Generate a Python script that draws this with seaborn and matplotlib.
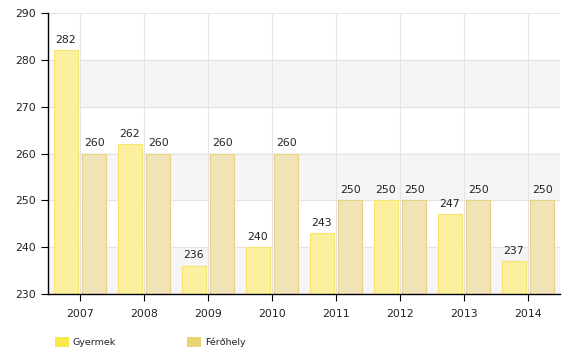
import matplotlib
matplotlib.use("Agg")
import matplotlib.pyplot as plt
import seaborn as sns
import pandas as pd
from matplotlib.patches import Patch

years = ["2007", "2008", "2009", "2010", "2011", "2012", "2013", "2014"]
gyermek = [282, 262, 236, 240, 243, 250, 247, 237]
ferohely = [260, 260, 260, 260, 250, 250, 250, 250]
series = ["Gyermek", "Férőhely"]

df = pd.DataFrame({
    "year": years * 2,
    "value": gyermek + ferohely,
    "series": [series[0]] * len(years) + [series[1]] * len(years),
})

sns.set_theme(style="white")
plt.rcParams['font.family'] = ['DejaVu Sans']

fig = plt.figure(figsize=(5.79, 3.62), dpi=100)
ax = fig.add_axes([48/579, 1 - 294/362, (560-48)/579, (294-13)/362])

face = {"Gyermek": "#faf0a0", "Férőhely": "#f0e4b6"}
edge = {"Gyermek": "#f6e46c", "Férőhely": "#e6d282"}

sns.barplot(data=df, x="year", y="value", hue="series", hue_order=series,
            palette=face, saturation=1, width=0.9, gap=0.17, ax=ax, legend=False,
            bottom=0)

for i, cont in enumerate(ax.containers):
    for p in cont:
        p.set_edgecolor(edge[series[i]])
        p.set_linewidth(0.8)
    ax.bar_label(cont, padding=4, fontsize=7.8, color="#222222")

ax.set_ylim(230, 290)
ax.set_xlim(-0.5, len(years) - 0.5)
ax.set_yticks(range(230, 291, 10))
for lo in (230, 250, 270):
    ax.axhspan(lo, lo + 10, color="#f5f5f5", zorder=0)
ax.grid(True, axis="both", color="#e4e4e4", linewidth=0.8, zorder=0.5)
ax.set_axisbelow(True)
ax.set_xlabel("")
ax.set_ylabel("")
for s in ["top", "right"]:
    ax.spines[s].set_visible(False)
for s in ["left", "bottom"]:
    ax.spines[s].set_color("#000000")
    ax.spines[s].set_linewidth(1.0)
ax.tick_params(axis="both", which="both", length=5, width=0.8, color="#000000",
               labelsize=7.8, labelcolor="#222222", direction="out",
               left=True, bottom=True)
ax.tick_params(axis="x", pad=6)

handles = [Patch(facecolor="#f8e84c", edgecolor="none"),
           Patch(facecolor="#e8d472", edgecolor="none")]
fig.legend(handles, series, loc="center left", bbox_to_anchor=(46/579, 1 - 342/362),
           ncol=2, frameon=False, fontsize=6.8, handlelength=1.5, handleheight=1.4,
           columnspacing=7.5, handletextpad=0.45, labelcolor="#222222")

fig.savefig("out.png", dpi=100)
